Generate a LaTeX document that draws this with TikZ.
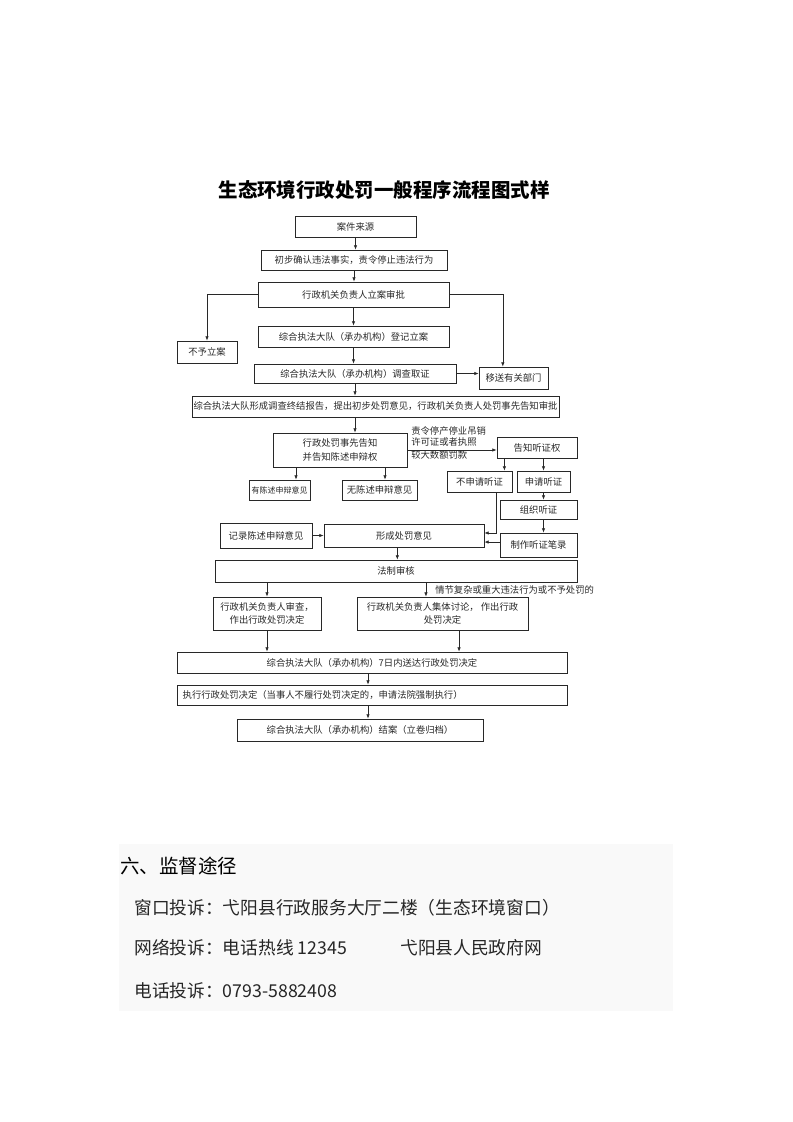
\documentclass[tikz,border=0pt]{standalone}
\usepackage{fontspec}
\setmainfont{Noto Sans CJK SC}
\usetikzlibrary{arrows.meta}
\definecolor{panelgray}{RGB}{249,249,249}
\definecolor{inkgray}{RGB}{40,40,40}

\begin{document}
\begin{tikzpicture}[
    x=0.75pt,
    y=-0.75pt,
    >={Latex[length=3.2pt,width=2.6pt]},
    box/.style={draw=inkgray, line width=0.6pt, inner sep=1pt, text=inkgray,
        font=\fontsize{7}{10}\selectfont, align=center},
    arr/.style={->, line width=0.5pt, draw=inkgray},
    note/.style={inner sep=0pt, text=inkgray, font=\fontsize{7}{8.6}\selectfont},
    body/.style={anchor=west, inner sep=0pt, text=black!85, font=\fontsize{13.3}{15}\selectfont}
]
    \useasboundingbox (0,0) rectangle (793,1122);
    \node[inner sep=0pt, font=\fontsize{14.6}{16}\selectfont\bfseries] (title) at (384,190) {生态环境行政处罚一般程序流程图式样};

    \node[box, minimum width=90.75pt, minimum height=15.75pt] (src) at (355.5,226.5) {案件来源};
    \node[box, minimum width=139.5pt, minimum height=15pt] (confirm) at (354,260) {初步确认违法事实，责令停止违法行为};
    \node[box, minimum width=143.25pt, minimum height=18.75pt] (approve) at (353.5,294.5) {行政机关负责人立案审批};
    \node[box, minimum width=45pt, minimum height=16.5pt] (noreg) at (207,352) {不予立案};
    \node[box, minimum width=143.25pt, minimum height=15.75pt] (reg) at (353.5,336.5) {综合执法大队（承办机构）登记立案};
    \node[box, minimum width=151.5pt, minimum height=14.25pt] (invest) at (355,373.5) {综合执法大队（承办机构）调查取证};
    \node[box, minimum width=51.75pt, minimum height=16.5pt] (transfer) at (513.5,378) {移送有关部门};
    \node[box, minimum width=275.25pt, minimum height=15.75pt] (report) at (375.5,406.5) {综合执法大队形成调查终结报告，提出初步处罚意见，行政机关负责人处罚事先告知审批};
    \node[box, minimum width=100.5pt, minimum height=25.5pt, font=\fontsize{7}{11}\selectfont] (notice) at (340,450) {行政处罚事先告知\\并告知陈述申辩权};
    \node[box, minimum width=60pt, minimum height=15.75pt] (hearing) at (537,447.5) {告知听证权};
    \node[box, minimum width=45.75pt, minimum height=15pt, font=\fontsize{6}{8}\selectfont] (plead) at (279.5,490) {有陈述申辩意见};
    \node[box, minimum width=56.25pt, minimum height=15pt] (noplead) at (379.5,490) {无陈述申辩意见};
    \node[box, minimum width=48.75pt, minimum height=15.75pt] (nohear) at (479.5,481.5) {不申请听证};
    \node[box, minimum width=39.75pt, minimum height=15.75pt] (apply) at (543.5,481.5) {申请听证};
    \node[box, minimum width=57.75pt, minimum height=14.25pt] (organize) at (538.5,509.5) {组织听证};
    \node[box, minimum width=57.75pt, minimum height=18pt] (record) at (538.5,545) {制作听证笔录};
    \node[box, minimum width=120pt, minimum height=17.25pt] (form) at (404,535.5) {形成处罚意见};
    \node[box, minimum width=69pt, minimum height=18.75pt] (log) at (266,535.5) {记录陈述申辩意见};
    \node[box, minimum width=271.5pt, minimum height=16.5pt] (legal) at (396,571) {法制审核};
    \node[box, minimum width=81pt, minimum height=24.75pt] (review) at (267,613.5) {行政机关负责人审查，\\作出行政处罚决定};
    \node[box, minimum width=128.25pt, minimum height=24.75pt] (collect) at (442.5,613.5) {行政机关负责人集体讨论， 作出行政\\处罚决定};
    \node[box, minimum width=292.5pt, minimum height=15.75pt] (deliver) at (372,662.5) {综合执法大队（承办机构）7日内送达行政处罚决定};
    \node[box, text width=284pt, inner xsep=4.25pt, minimum height=15pt, align=left] (execute) at (372,695) {执行行政处罚决定（当事人不履行处罚决定的，申请法院强制执行）};
    \node[box, minimum width=184.5pt, minimum height=16.5pt] (close) at (360,730) {综合执法大队（承办机构）结案（立卷归档）};

    \node[note, anchor=west, align=left] (cond) at (411,443) {责令停产停业吊销\\许可证或者执照\\[1.2pt]较大数额罚款};
    \node[note, anchor=west] (cplx) at (435,590) {情节复杂或重大违法行为或不予处罚的};

    \draw[arr] (src.south) -- (src.south |- confirm.north);
    \draw[arr] (confirm.south) -- (confirm.south |- approve.north);
    \draw[arr] (approve.south) -- (approve.south |- reg.north);
    \draw[arr] (reg.south) -- (reg.south |- invest.north);
    \draw[arr] (approve.west) -| (noreg.north);
    \coordinate (tin) at ([xshift=-8pt]transfer.north);
    \draw[arr] (approve.east) -| (tin);
    \draw[arr] (invest.east) -- (invest.east -| transfer.west);
    \draw[arr] (invest.south) -- (invest.south |- report.north);
    \draw[arr] (invest.south |- report.south) -- (invest.south |- notice.north);
    \draw[arr] (notice.east) -- (notice.east -| hearing.west);
    \coordinate (na) at ([xshift=-33pt]notice.south);
    \coordinate (nb) at ([xshift=33.75pt]notice.south);
    \draw[arr] (na) -- (na |- plead.north);
    \draw[arr] (nb) -- (nb |- noplead.north);
    \coordinate (ha) at ([xshift=-6pt]nohear.north east);
    \draw[arr] (ha |- hearing.south) -- (ha);
    \draw[arr] (hearing.south -| apply) -- (apply.north);
    \draw[arr] (apply.south) -- (apply.south |- organize.north);
    \draw[arr] (apply.south |- organize.south) -- (apply.south |- record.north);
    \coordinate (hb) at ([xshift=12.4pt]nohear.south);
    \coordinate (fa) at ([yshift=1.9pt]form.east);
    \draw[arr] (hb) |- (fa);
    \coordinate (fb) at ([yshift=-4.9pt]form.east);
    \draw[arr] (record.west |- fb) -- (fb);
    \draw[arr] (log.east) -- (log.east -| form.west);
    \coordinate (fl) at ([xshift=-5pt]form.south);
    \draw[arr] (fl) -- (fl |- legal.north);
    \draw[arr] (legal.south -| review) -- (review.north);
    \coordinate (cl) at ([xshift=-12.4pt]collect.north);
    \draw[arr] (cl |- legal.south) -- (cl);
    \draw[arr] (review.south) -- (review.south |- deliver.north);
    \coordinate (cd) at ([xshift=12.4pt]collect.south);
    \draw[arr] (cd) -- (cd |- deliver.north);
    \coordinate (dx) at ([xshift=-3pt]deliver.south);
    \draw[arr] (dx) -- (dx |- execute.north);
    \draw[arr] (dx |- execute.south) -- (dx |- close.north);

    \fill[panelgray] (119,844) rectangle (673,1011);
    \node[anchor=west, inner sep=0pt, font=\fontsize{14.6}{16}\selectfont] (supv) at (120,866) {六、监督途径};
    \node[body] (win) at (134,908) {窗口投诉：弋阳县行政服务大厅二楼（生态环境窗口）};
    \node[body] (web) at (134,948) {网络投诉：电话热线 12345};
    \node[body] (gov) at (400,948) {弋阳县人民政府网};
    \node[body] (tel) at (134,991) {电话投诉：0793-5882408};
\end{tikzpicture}
\end{document}
